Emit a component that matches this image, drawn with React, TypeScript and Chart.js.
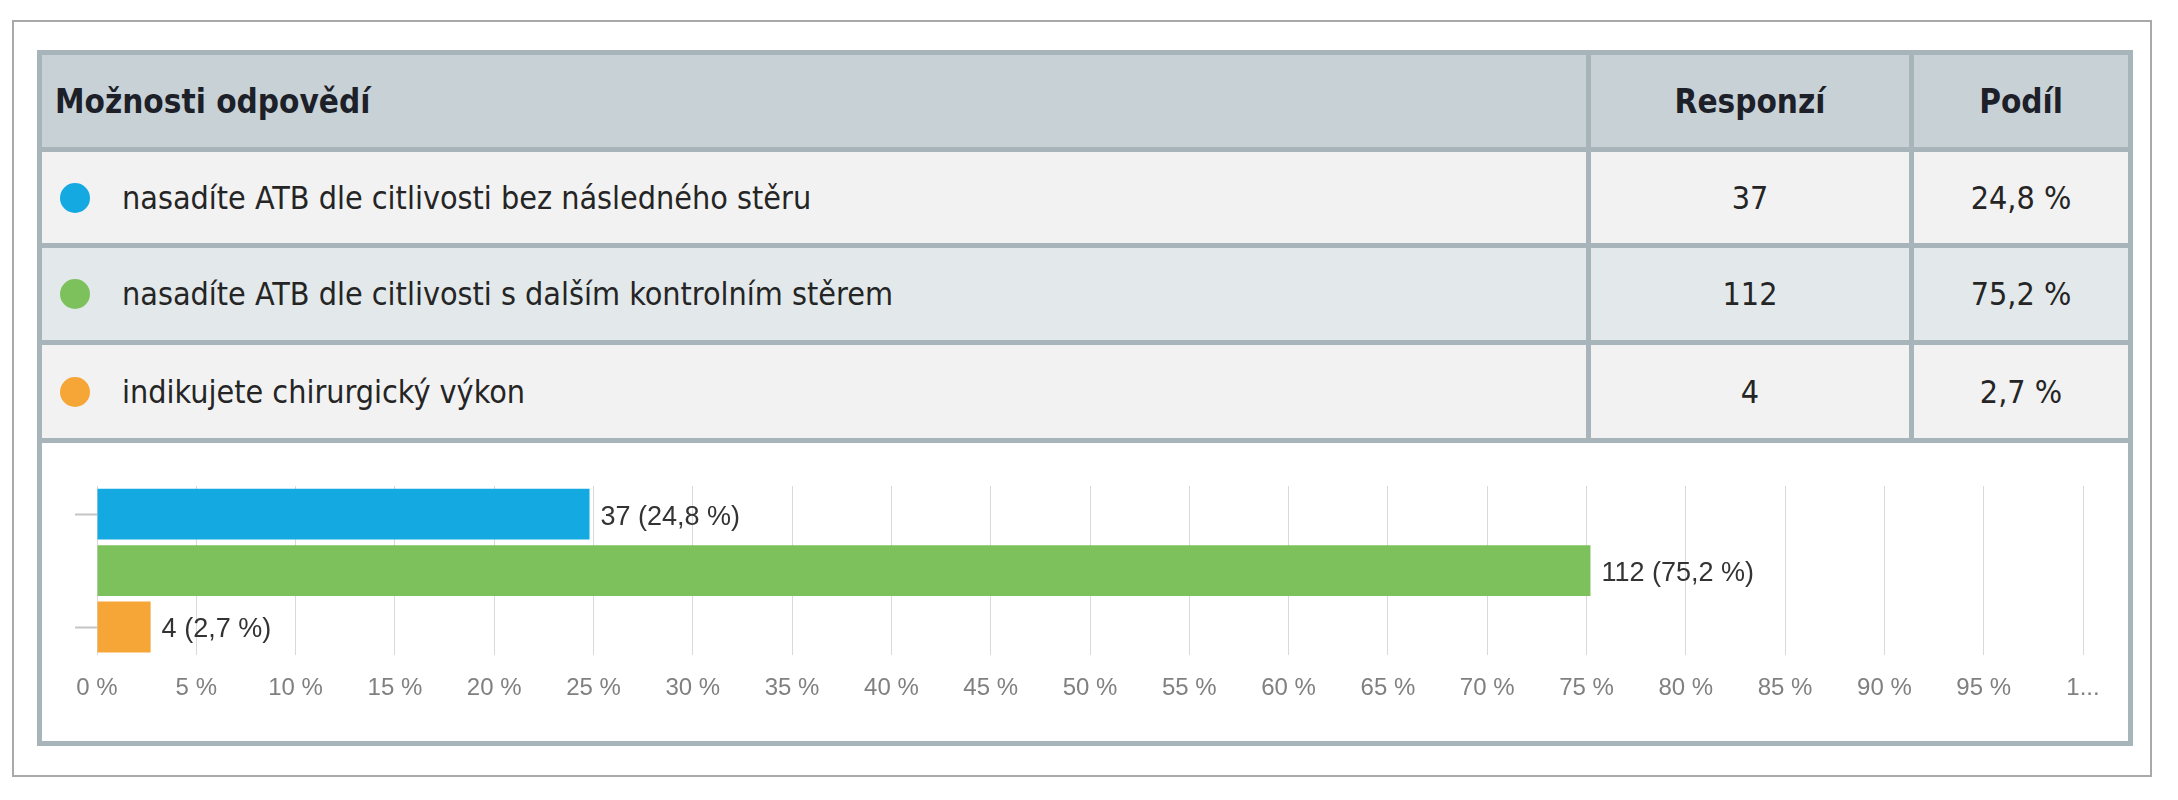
import { useEffect, useRef } from 'react';
import { Chart, registerables, Plugin } from 'chart.js';

Chart.register(...registerables);

const answerOptions = [
  'nasadíte ATB dle citlivosti bez následného stěru',
  'nasadíte ATB dle citlivosti s dalším kontrolním stěrem',
  'indikujete chirurgický výkon',
];
const responses = [37, 112, 4];
const shares = [24.8, 75.2, 2.7];
const barColors = ['#14a9e1', '#7dc15d', '#f6a637'];
const rowBackgrounds = ['#f2f2f2', '#e3e8ea', '#f2f2f2'];
const headers = ['Možnosti odpovědí', 'Responzí', 'Podíl'];
const tickLabels = [
  '0 %', '5 %', '10 %', '15 %', '20 %', '25 %', '30 %', '35 %', '40 %', '45 %',
  '50 %', '55 %', '60 %', '65 %', '70 %', '75 %', '80 %', '85 %', '90 %', '95 %', '1...',
];
const yTickMarks = [true, false, true];

const NARROW = '"DejaVu Sans Condensed", "Liberation Sans", sans-serif';
const SANS = '"Liberation Sans", Arial, sans-serif';

const formatShare = (v: number) => `${v.toFixed(1).replace('.', ',')} %`;

function ResultsChart() {
  const canvasRef = useRef<HTMLCanvasElement>(null);

  useEffect(() => {
    if (!canvasRef.current) return;

    const valueLabels: Plugin<'bar'> = {
      id: 'valueLabels',
      afterDatasetsDraw(chart) {
        const { ctx } = chart;
        const meta = chart.getDatasetMeta(0);
        ctx.save();
        ctx.font = `27px ${SANS}`;
        ctx.fillStyle = '#333333';
        ctx.textAlign = 'left';
        ctx.textBaseline = 'middle';
        meta.data.forEach((bar, i) => {
          const { x, y } = bar.getProps(['x', 'y'], true);
          ctx.fillText(`${responses[i]} (${formatShare(shares[i])})`, x + 11, y + 3);
        });
        ctx.restore();
      },
    };

    const chart = new Chart(canvasRef.current, {
      type: 'bar',
      data: {
        labels: answerOptions,
        datasets: [
          {
            data: shares,
            backgroundColor: barColors,
            borderWidth: 0,
            barPercentage: 0.9,
            categoryPercentage: 1,
          },
        ],
      },
      options: {
        indexAxis: 'y',
        animation: false,
        responsive: false,
        devicePixelRatio: 1,
        layout: { padding: { left: 33, right: 45, top: 43, bottom: 19 } },
        plugins: { legend: { display: false }, tooltip: { enabled: false } },
        scales: {
          x: {
            min: 0,
            max: 100,
            border: { display: false },
            grid: { color: '#d9d9d9', lineWidth: 1, drawTicks: false },
            ticks: {
              stepSize: 5,
              autoSkip: false,
              maxRotation: 0,
              padding: 19,
              color: '#808080',
              font: { family: SANS, size: 24 },
              callback: (_v, i) => tickLabels[i],
            },
          },
          y: {
            border: { display: false },
            grid: {
              drawOnChartArea: false,
              offset: false,
              tickLength: 22,
              tickWidth: 2,
              tickColor: (c) => (yTickMarks[c.index] ? '#c4c4c4' : 'rgba(0,0,0,0)'),
            },
            ticks: { display: false },
          },
        },
      },
      plugins: [valueLabels],
    });

    return () => {
      chart.destroy();
    };
  }, []);

  return (
    <canvas
      ref={canvasRef}
      width={2086}
      height={298}
      style={{ display: 'block', width: 2086, height: 298 }}
    />
  );
}

export default function App() {
  const cell = (bg: string, extra: React.CSSProperties = {}): React.CSSProperties => ({
    background: bg,
    display: 'flex',
    alignItems: 'center',
    overflow: 'hidden',
    whiteSpace: 'nowrap',
    ...extra,
  });
  const headerText: React.CSSProperties = {
    fontFamily: NARROW,
    fontWeight: 'bold',
    fontSize: 33,
    color: '#1d1f29',
  };
  const bodyText: React.CSSProperties = {
    fontFamily: NARROW,
    fontSize: 32,
    color: '#252525',
  };

  return (
    <div style={{ position: 'absolute', left: 0, top: 0, width: 2178, height: 800, background: '#ffffff' }}>
      <div
        style={{
          position: 'absolute',
          left: 12,
          top: 20,
          width: 2140,
          height: 757,
          border: '2px solid #a9a9a9',
          boxSizing: 'border-box',
        }}
      />
      <div
        style={{
          position: 'absolute',
          left: 37,
          top: 50,
          width: 2096,
          height: 696,
          boxSizing: 'border-box',
          padding: 5,
          background: '#a7b4ba',
          display: 'grid',
          gridTemplateColumns: '1544px 318px 214px',
          gridTemplateRows: '92px 91px 92px 93px 298px',
          gap: 5,
        }}
      >
        <div style={cell('#c8d2d6', { paddingLeft: 13, ...headerText })}>{headers[0]}</div>
        <div style={cell('#c8d2d6', { justifyContent: 'center', ...headerText })}>{headers[1]}</div>
        <div style={cell('#c8d2d6', { justifyContent: 'center', ...headerText })}>{headers[2]}</div>
        {answerOptions.map((label, i) => [
          <div key={`l${i}`} style={cell(rowBackgrounds[i], bodyText)}>
            <span
              style={{
                display: 'inline-block',
                width: 30,
                height: 30,
                borderRadius: '50%',
                background: barColors[i],
                marginLeft: 18,
                marginRight: 32,
                flex: 'none',
              }}
            />
            {label}
          </div>,
          <div key={`r${i}`} style={cell(rowBackgrounds[i], { justifyContent: 'center', ...bodyText })}>
            {responses[i]}
          </div>,
          <div key={`s${i}`} style={cell(rowBackgrounds[i], { justifyContent: 'center', ...bodyText })}>
            {formatShare(shares[i])}
          </div>,
        ])}
        <div style={{ gridColumn: '1 / 4', background: '#ffffff' }}>
          <ResultsChart />
        </div>
      </div>
    </div>
  );
}
